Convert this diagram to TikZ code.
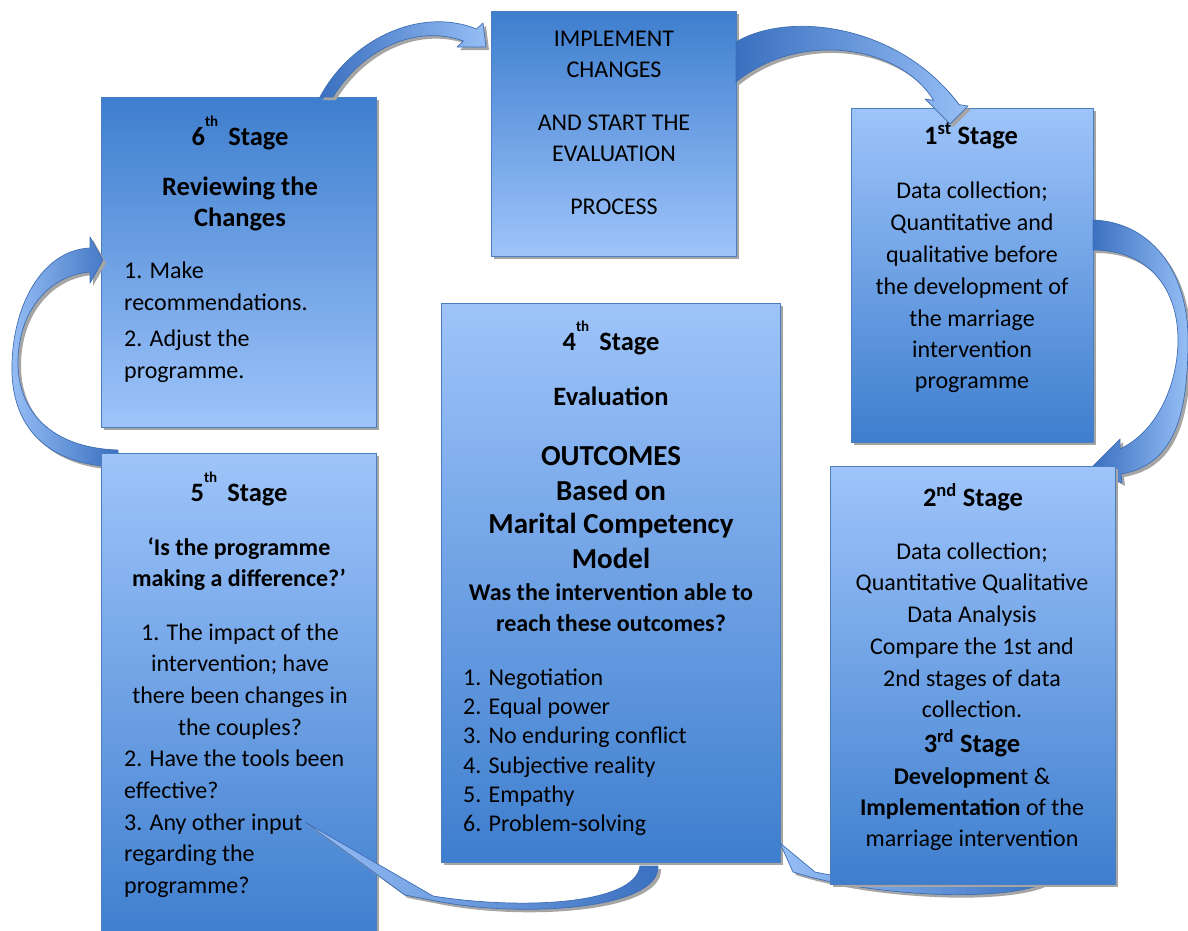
\documentclass[tikz,border=0pt]{standalone}
\usepackage{fontspec}
\setmainfont{Carlito}
\usetikzlibrary{shadows}
\definecolor{bluedark}{RGB}{62,126,206}
\definecolor{bluelight}{RGB}{158,196,250}
\definecolor{boxline}{RGB}{74,126,190}
\definecolor{arrowline}{RGB}{62,110,180}
\definecolor{arrowlight}{RGB}{150,190,245}
\definecolor{arrowdark}{RGB}{58,112,192}
\definecolor{shadowgray}{RGB}{165,165,165}
% raised ordinal used in the stage titles
\newcommand{\highsup}[1]{\raisebox{19pt}{\fontsize{15}{15}\selectfont #1}\hspace{10pt}}
% outlines of the curved block arrows (pixel-like units, y downwards)
\newcommand{\pathSixImpl}{(320,97) .. controls (350,40) and (420,6) .. (476.5,29) -- (483,23) -- (486,47) -- (457,47) -- (463.5,41) .. controls (420,25) and (365,45) .. (333,97) -- cycle}
\newcommand{\pathImplOne}{(736,42) .. controls (790,10) and (900,25) .. (959,104.6) -- (968,106) -- (950,124) -- (925,99) -- (933.6,100.4) .. controls (900,45) and (800,30) .. (736,82) -- cycle}
\newcommand{\pathOneTwo}{(1093,220) .. controls (1150,222) and (1188,270) .. (1188,340) .. controls (1188,420) and (1172,465) .. (1121,474) -- (1122,483) -- (1092,467) -- (1120,439) -- (1120,449) .. controls (1160,430) and (1178,380) .. (1178,340) .. controls (1178,290) and (1150,250) .. (1093,250) -- cycle}
\newcommand{\pathFiveSix}{(118,467) .. controls (40,465) and (10,420) .. (12,363) .. controls (14,300) and (45,250) .. (90,248) -- (90,237) -- (103,260) -- (90,283) -- (90,272) .. controls (50,275) and (18,310) .. (18,363) .. controls (18,410) and (50,448) .. (118,450) -- cycle}
\newcommand{\pathFourFive}{(305,822) -- (433,896) .. controls (520,910) and (635,905) .. (640,866) -- (658,866) .. controls (660,910) and (520,918) .. (436,901) -- (405,895) -- cycle}
\newcommand{\pathTwoFour}{(780,843) -- (815,872) .. controls (870,884) and (1020,895) .. (1040,870) -- (1058,870) .. controls (1050,905) and (880,900) .. (793,872) -- cycle}
\begin{document}
\begin{tikzpicture}[x=1pt,y=-1pt,
  stagebox/.style={rectangle, draw=boxline, line width=0.9pt, inner sep=0pt,
    drop shadow={shadow xshift=3pt, shadow yshift=-3pt, fill=shadowgray, opacity=1}},
  darktop/.style={stagebox, top color=bluedark, bottom color=bluelight},
  lighttop/.style={stagebox, top color=bluelight, bottom color=bluedark},
  arrowshadow/.style={fill=shadowgray, xshift=3pt, yshift=-3pt},
  arrowbody/.style={draw=arrowline, line width=0.7pt, line join=round},
  txt/.style={font=\fontsize{24}{29}\selectfont, inner sep=0pt, anchor=base},
  txtl/.style={txt, anchor=base west},
  txtb/.style={txt, font=\fontsize{24}{29}\selectfont\bfseries},
  head/.style={txt, font=\fontsize{26.5}{32}\selectfont\bfseries},
  big/.style={txt, font=\fontsize{29}{34}\selectfont\bfseries}]
\useasboundingbox (0,0) rectangle (1188,930);

% upper boxes
\node[darktop, minimum width=275pt, minimum height=330pt] (s6) at (238.5,262) {};
\node[darktop, minimum width=245pt, minimum height=245pt] (impl) at (613.5,133.5) {};
\node[lighttop, minimum width=242pt, minimum height=334pt] (s1) at (972,275) {};
\node[lighttop, minimum width=339pt, minimum height=559pt] (s4) at (610.5,582.5) {};

% curved arrows of the cycle
\fill[arrowshadow] \pathSixImpl;
\shade[arrowbody, left color=arrowdark, right color=arrowlight] \pathSixImpl;
\fill[arrowshadow] \pathImplOne;
\shade[arrowbody, left color=arrowdark, right color=arrowlight] \pathImplOne;
\fill[arrowshadow] \pathFiveSix;
\shade[arrowbody, left color=arrowlight, right color=arrowdark] \pathFiveSix;
\fill[arrowshadow] \pathOneTwo;
\shade[arrowbody, left color=arrowdark, right color=arrowlight] \pathOneTwo;
\fill[arrowshadow] \pathTwoFour;
\shade[arrowbody, left color=arrowlight, right color=arrowdark] \pathTwoFour;

% lower boxes
\node[lighttop, minimum width=285pt, minimum height=418pt] (s2) at (972.5,675) {};
\node[lighttop, minimum width=275pt, minimum height=490pt] (s5) at (238.5,698) {};

\fill[arrowshadow] \pathFourFive;
\shade[arrowbody, left color=arrowlight, right color=arrowdark] \pathFourFive;

% implementation box
\foreach \s/\y [count=\i] in {IMPLEMENT/46, CHANGES/77, AND START THE/130, EVALUATION/161, PROCESS/214}
  \node[txt] (impl-\i) at (614,\y) {\s};

% 6th stage
\node[head] (s6-title) at (240,145) {6\highsup{th}Stage};
\node[head] (s6-sub1) at (240,195) {Reviewing the};
\node[head] (s6-sub2) at (240,226) {Changes};
\foreach \s/\y [count=\i] in {1. Make/278, recommendations./310, 2. Adjust the/346, programme./378}
  \node[txtl] (s6-item\i) at (124,\y) {\s};

% 1st stage
\node[head] (s1-title) at (971,144) {1\textsuperscript{st} Stage};
\foreach \s/\y [count=\i] in {Data collection;/198, Quantitative and/230, qualitative before/262, the development of/294, the marriage/326, intervention/357, programme/388}
  \node[txt] (s1-line\i) at (972,\y) {\s};

% 4th stage
\node[head] (s4-title) at (611,350) {4\highsup{th}Stage};
\node[head] (s4-eval) at (611,405) {Evaluation};
\foreach \s/\y [count=\i] in {OUTCOMES/465, Based on/500, Marital Competency/533, Model/568}
  \node[big] (s4-big\i) at (611,\y) {\s};
\foreach \s/\y [count=\i] in {Was the intervention able to/600, reach these outcomes?/631}
  \node[txtb] (s4-q\i) at (611,\y) {\s};
\foreach \s/\y [count=\i] in {1. Negotiation/685, 2. Equal power/714, 3. No enduring conflict/743, 4. Subjective reality/773, 5. Empathy/802, 6. Problem-solving/831}
  \node[txtl] (s4-item\i) at (463,\y) {\s};

% 5th stage
\node[head] (s5-title) at (239,501) {5\highsup{th}Stage};
\foreach \s/\y [count=\i] in {‘Is the programme/555, making a difference?’/586}
  \node[txtb] (s5-q\i) at (239,\y) {\s};
\foreach \s/\y [count=\i] in {1. The impact of the/640, intervention; have/671, there been changes in/703, the couples?/735}
  \node[txt] (s5-c\i) at (240,\y) {\s};
\foreach \s/\y [count=\i] in {2. Have the tools been/766, effective?/798, 3. Any other input/830, regarding the/861, programme?/893}
  \node[txtl] (s5-l\i) at (124,\y) {\s};

% 2nd and 3rd stage
\node[head] (s2-title) at (973,506) {2\textsuperscript{nd} Stage};
\foreach \s/\y [count=\i] in {Data collection;/559, Quantitative Qualitative/590, Data Analysis/622, Compare the 1st and/654, 2nd stages of data/686, collection./717}
  \node[txt] (s2-line\i) at (972,\y) {\s};
\node[head] (s3-title) at (972,752) {3\textsuperscript{rd} Stage};
\node[txt] (s3-line1) at (972,784) {\textbf{Developmen}t \&};
\node[txt] (s3-line2) at (972,815) {\textbf{Implementation} of the};
\node[txt] (s3-line3) at (972,846) {marriage intervention};
\end{tikzpicture}
\end{document}
